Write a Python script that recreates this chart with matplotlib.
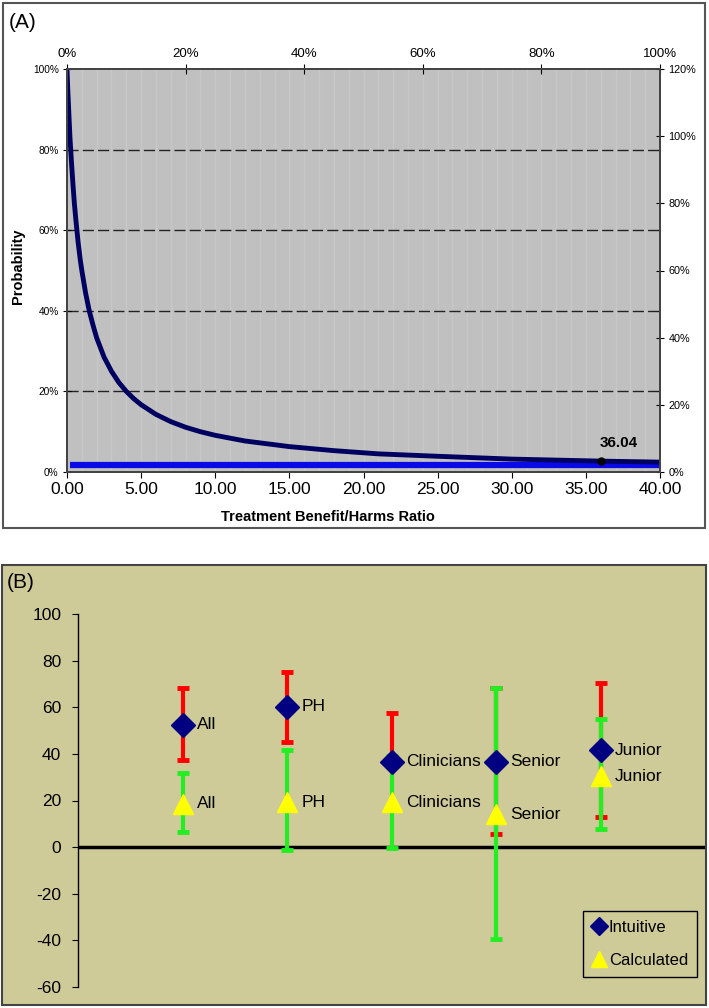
import matplotlib.pyplot as plt
from matplotlib.patches import Rectangle
from matplotlib.lines import Line2D

# Panel A: probability threshold against benefit/harms ratio
ratio = [0, 0.05, 0.1, 0.15, 0.2, 0.3, 0.4, 0.5, 0.6, 0.75, 0.9, 1, 1.25, 1.5,
         1.75, 2, 2.5, 3, 3.5, 4, 4.5, 5, 6, 7, 8, 9, 10, 12, 15, 18, 21, 25,
         30, 36.04, 40]
prob = [100, 95, 91, 87, 83, 77, 71.5, 66.5, 62.5, 57, 52.5, 50, 44.5, 40,
        36.5, 33.3, 28.5, 25, 22.2, 20, 18.2, 16.7, 14.3, 12.5, 11.1, 10,
        9.1, 7.7, 6.3, 5.3, 4.5, 3.9, 3.2, 2.7, 2.45]
base_ratio = [0.2, 40]
base_prob = [1.8, 1.8]
cross_ratio = 36.04
cross_prob = 2.7
cross_label = '36.04'

# Panel B: intuitive vs calculated thresholds with ranges
groups = ['All', 'PH', 'Clinicians', 'Senior', 'Junior']
intuitive = [52.5, 60.3, 36.7, 36.7, 41.5]
intuitive_lo = [37.2, 45.3, 36.7, 5.5, 13.0]
intuitive_hi = [68.4, 75.2, 57.7, 68.2, 70.6]
calculated = [18.5, 19.2, 19.2, 14.1, 30.5]
calculated_lo = [6.4, -1.2, -0.5, -39.6, 7.7]
calculated_hi = [32.0, 41.5, 39.0, 68.2, 55.1]

W, H = 709, 1008
fig = plt.figure(figsize=(W / 100, H / 100), dpi=100)
plt.rcParams['font.family'] = ['Liberation Sans', 'DejaVu Sans']


def fbox(x0, y0, x1, y1):
    # pixel box (top-left origin) -> figure fraction rect
    return [x0 / W, 1 - y1 / H, (x1 - x0) / W, (y1 - y0) / H]


# ---------------- Panel A ----------------
r = fbox(3, 3, 705, 528)
fig.patches.append(Rectangle((r[0], r[1]), r[2], r[3], transform=fig.transFigure,
                             facecolor='white', edgecolor='#555555', lw=1.5, zorder=-1))
fig.text(9 / W, 1 - 23 / H, '(A)', fontsize=15, va='center', ha='left')

ax = fig.add_axes(fbox(67, 69, 660, 472))
ax.set_facecolor('#c0c0c0')
for v in range(1, 40):
    ax.axvline(v, color='#c7c7c7', lw=1, zorder=0)
for g in [20, 40, 60, 80]:
    ax.axhline(g, color='#222222', lw=1, ls=(0, (8, 3)), zorder=1)
ax.plot(base_ratio, base_prob, color='#0a0ae6', lw=4.5, solid_capstyle='butt', zorder=2)
ax.plot(ratio, prob, color='#000060', lw=3.5, zorder=3)
ax.plot(cross_ratio, cross_prob, 'o', color='black', ms=5, zorder=4)
ax.annotate(cross_label, (cross_ratio, cross_prob), xytext=(-1, 13),
            textcoords='offset points', ha='left', va='center',
            fontsize=11, fontweight='bold')
ax.set_xlim(0, 40)
ax.set_ylim(0, 100)
ax.set_xticks(range(0, 41, 5))
ax.set_xticklabels(['%.2f' % v for v in range(0, 41, 5)], fontsize=12.5)
ax.set_yticks(range(0, 101, 20))
ax.set_yticklabels(['%d%%' % v for v in range(0, 101, 20)], fontsize=7.3)
ax.tick_params(axis='x', direction='out', length=4, pad=3)
ax.tick_params(axis='y', direction='inout', length=6, pad=3)
for s in ax.spines.values():
    s.set_color('#444444')
    s.set_linewidth(1.3)
ax.set_xlabel('Treatment Benefit/Harms Ratio', fontsize=10.5, fontweight='bold')
ax.xaxis.set_label_coords(0.44, -0.095)
ax.set_ylabel('Probability', fontsize=10.5, fontweight='bold')
ax.yaxis.set_label_coords(-0.07, 0.51)

top = ax.twiny()
top.set_xlim(0, 100)
top.set_xticks(range(0, 101, 20))
top.set_xticklabels(['%d%%' % v for v in range(0, 101, 20)], fontsize=9.5)
top.tick_params(axis='x', direction='inout', length=7, pad=3)

right = ax.twinx()
right.set_ylim(0, 120)
right.set_yticks(range(0, 121, 20))
right.set_yticklabels(['%d%%' % v for v in range(0, 121, 20)], fontsize=7.8)
right.tick_params(axis='y', direction='inout', length=6, pad=3)
for a in (top, right):
    for s in a.spines.values():
        s.set_color('#444444')
        s.set_linewidth(1.3)

# ---------------- Panel B ----------------
khaki = '#cfcb99'
r = fbox(2, 565, 706, 1005)
fig.patches.append(Rectangle((r[0], r[1]), r[2], r[3], transform=fig.transFigure,
                             facecolor=khaki, edgecolor='#444444', lw=1.5, zorder=-1))
fig.text(7 / W, 1 - 583 / H, '(B)', fontsize=15, va='center', ha='left')

bx = fig.add_axes(fbox(78, 614, 705, 987))
bx.set_facecolor('none')
pos = list(range(1, len(groups) + 1))
int_err = [[v - lo for v, lo in zip(intuitive, intuitive_lo)],
           [hi - v for v, hi in zip(intuitive, intuitive_hi)]]
cal_err = [[v - lo for v, lo in zip(calculated, calculated_lo)],
           [hi - v for v, hi in zip(calculated, calculated_hi)]]
bx.errorbar(pos, intuitive, yerr=int_err, fmt='none', ecolor='#ff0000',
            elinewidth=3, capsize=4.5, capthick=3.5, zorder=2)
bx.errorbar(pos, calculated, yerr=cal_err, fmt='none', ecolor='#22ee22',
            elinewidth=3, capsize=4.5, capthick=3.5, zorder=3)
bx.plot(pos, intuitive, 'D', color='#000080', ms=12, mec='#000080', ls='none', zorder=4)
bx.plot(pos, calculated, '^', color='#ffff00', ms=14, mec='#ffff00', ls='none', zorder=5)
for p, name, a, b in zip(pos, groups, intuitive, calculated):
    bx.annotate(name, (p, a), xytext=(10.5, 0), textcoords='offset points',
                va='center', ha='left', fontsize=12.5)
    bx.annotate(name, (p, b), xytext=(10.5, 0), textcoords='offset points',
                va='center', ha='left', fontsize=12.5)
bx.axhline(0, color='black', lw=2.5, zorder=1)
bx.set_xlim(0, 6)
bx.set_ylim(-60, 100)
bx.set_xticks([])
bx.set_yticks(range(-60, 101, 20))
bx.set_yticklabels([str(v) for v in range(-60, 101, 20)], fontsize=12.5)
bx.tick_params(axis='y', direction='out', length=4, pad=8)
for k in ['top', 'right', 'bottom']:
    bx.spines[k].set_visible(False)
bx.spines['left'].set_linewidth(1)

handles = [Line2D([], [], marker='D', color='#000080', ls='none', ms=9),
           Line2D([], [], marker='^', color='#ffff00', ls='none', ms=12)]
leg = bx.legend(handles, ['Intuitive', 'Calculated'], loc='upper left',
                bbox_to_anchor=(583 / W, 1 - 911 / H), bbox_transform=fig.transFigure,
                frameon=True, fancybox=False, facecolor=khaki, edgecolor='black',
                framealpha=1, prop={'size': 12},
                handlelength=0.8, handletextpad=0.2, borderpad=0.55,
                labelspacing=1.05, borderaxespad=0)
leg.get_frame().set_linewidth(1)

fig.savefig('out.png', dpi=100)
